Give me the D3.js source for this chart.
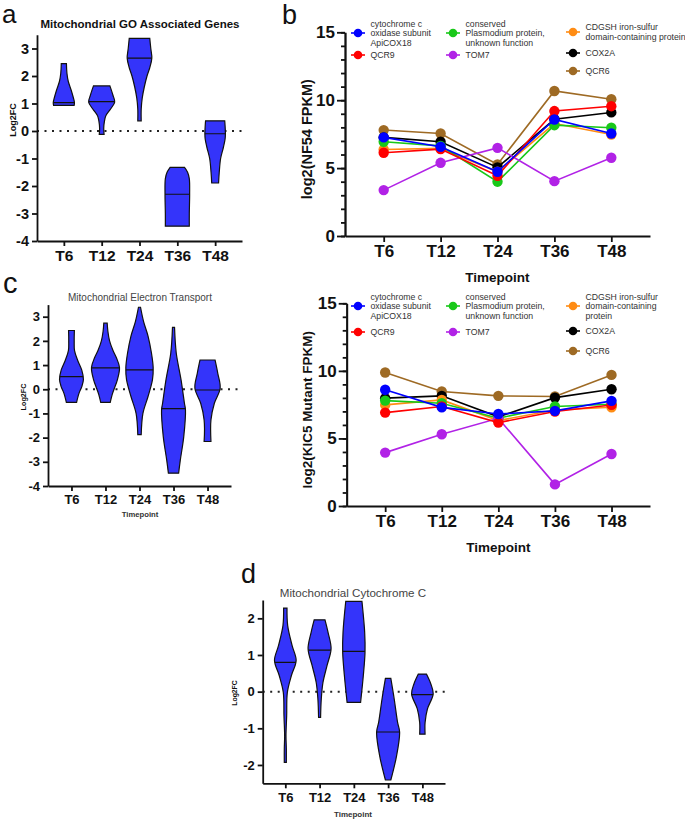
<!DOCTYPE html>
<html>
<head>
<meta charset="utf-8">
<script src="https://cdn.jsdelivr.net/npm/d3@7"></script>
<style>
  body { margin: 0; background: #fff; }
  svg { display: block; font-family: "Liberation Sans", Arial, sans-serif; }
</style>
</head>
<body>
<svg id="fig" width="685" height="820"></svg>
<script>
const svg = d3.select("#fig");
const times = ["T6", "T12", "T24", "T36", "T48"];

// violin outlines: [log2FC, relative width]
const goProfiles = [
  [[0.93, 30], [1.03, 31], [1.2, 28], [1.5, 21], [1.8, 13], [2.1, 9], [2.45, 7.5]],
  [[-0.12, 7], [0.1, 6], [0.35, 8], [0.55, 12], [0.8, 26], [1.05, 38], [1.3, 33], [1.64, 24]],
  [[0.37, 5], [0.8, 5], [1.2, 8], [1.6, 14], [2.0, 22], [2.3, 30], [2.65, 36], [3.0, 33], [3.37, 30]],
  [[-3.46, 35], [-3.0, 35], [-2.3, 36], [-1.73, 35], [-1.5, 30], [-1.32, 21]],
  [[-1.89, 10], [-1.5, 12], [-1.0, 16], [-0.6, 24], [-0.3, 29], [-0.1, 30], [0.2, 29], [0.37, 28]]
];
const goMedians = [1.03, 1.07, 2.65, -2.3, -0.1];

const etcProfiles = [
  [[-0.54, 15], [-0.17, 22], [0.1, 30], [0.4, 35], [0.8, 30], [1.2, 18], [1.6, 9], [2.0, 8], [2.43, 8.5]],
  [[-0.54, 14], [-0.2, 20], [0, 25], [0.4, 35], [0.9, 41], [1.3, 32], [1.6, 22], [2.0, 12], [2.4, 7], [2.73, 5]],
  [[-1.88, 5], [-1.0, 10], [-0.3, 25], [0.4, 38], [0.9, 40], [1.5, 35], [2.2, 25], [2.8, 12], [3.39, 3]],
  [[-3.47, 15], [-2.92, 20], [-1.96, 30], [-0.85, 35], [-0.58, 32], [0.4, 22], [1.5, 8], [2.56, 3]],
  [[-2.16, 10], [-1.27, 10], [-0.58, 20], [0.04, 37], [0.66, 30], [1.21, 22]]
];
const etcMedians = [0.52, 0.88, 0.8, -0.8, -0.03];

const cytProfiles = [
  [[-1.93, 3], [-1.56, 3], [-1.2, 2], [-0.66, 4], [-0.02, 6], [0.44, 18], [0.85, 32], [1.26, 20], [1.8, 7], [2.28, 5]],
  [[-0.7, 3], [-0.2, 5], [0.25, 10], [0.71, 22], [1.17, 34], [1.62, 25], [1.96, 16]],
  [[-0.29, 20], [0.44, 28], [1.07, 33], [1.62, 32], [2.46, 24]],
  [[-2.41, 8], [-1.75, 25], [-1.1, 34], [-0.84, 28], [-0.2, 18], [0.36, 8]],
  [[-1.16, 8], [-0.84, 8], [-0.47, 15], [-0.06, 32], [0.21, 25], [0.48, 12]]
];
const cytMedians = [0.8, 1.13, 1.1, -1.1, -0.08];

// gene expression (log2 FPKM) per timepoint
const genes = ["ApiCOX18", "QCR9", "conserved", "TOM7", "CDGSH", "COX2A", "QCR6"];
const geneColors = ["#0000ff", "#ff0000", "#19c819", "#b122e6", "#ff8c14", "#000000", "#9e6a24"];
const nf54Values = [
  [7.26, 6.57, 4.73, 8.58, 7.55],
  [6.13, 6.4, 4.43, 9.2, 9.56],
  [6.94, 6.64, 4.0, 8.16, 7.97],
  [3.38, 5.39, 6.49, 4.04, 5.76],
  [6.37, 6.45, 4.73, 8.28, 7.47],
  [7.26, 6.94, 5.05, 8.6, 9.1],
  [7.8, 7.55, 5.27, 10.68, 10.07]
];
const kic5Values = [
  [8.6, 7.3, 6.81, 7.04, 7.78],
  [6.91, 7.36, 6.17, 6.99, 7.48],
  [7.8, 7.6, 6.5, 7.36, 7.53],
  [3.95, 5.31, 6.49, 1.6, 3.85],
  [7.48, 7.85, 6.32, 7.1, 7.31],
  [7.98, 8.15, 6.6, 8.02, 8.64],
  [9.88, 8.47, 8.15, 8.1, 9.7]
];
const legendB = [["cytochrome c", "oxidase subunit", "ApiCOX18"], ["QCR9"],
  ["conserved", "Plasmodium protein,", "unknown function"], ["TOM7"],
  ["CDGSH iron-sulfur", "domain-containing protein"], ["COX2A"], ["QCR6"]];
const legendE = [["cytochrome c", "oxidase subunit", "ApiCOX18"], ["QCR9"],
  ["conserved", "Plasmodium protein,", "unknown function"], ["TOM7"],
  ["CDGSH iron-sulfur", "domain-containing", "protein"], ["COX2A"], ["QCR6"]];

const FONT = '"Liberation Sans", Arial, sans-serif';

function styleAxis(sel, size) {
  sel.selectAll("path, line").attr("stroke", "#111").attr("stroke-width", 1.8);
  sel.selectAll("text").attr("font-family", FONT).attr("font-weight", "bold")
    .attr("font-size", size).attr("fill", "#111");
}

function addText(x, y, str, opts) {
  const t = svg.append("text").attr("x", x).attr("y", y).text(str)
    .attr("font-family", FONT)
    .attr("font-size", opts.size)
    .attr("font-weight", opts.weight || "normal")
    .attr("fill", opts.fill || "#111")
    .attr("text-anchor", opts.anchor || "middle");
  if (opts.rotate) t.attr("transform", `rotate(-90,${x},${y})`);
  return t;
}

let clipId = 0;
function violinPanel(o) {
  const g = svg.append("g");
  const x = d3.scalePoint().domain(times).range(o.xr).padding(o.pad);
  const y = d3.scaleLinear().domain(o.yd).range(o.yr);
  const w = d3.scaleLinear().domain([0, d3.max(o.profiles.flat(), d => d[1])]).range([0, o.hw]);

  g.append("line")
    .attr("x1", o.xr[0]).attr("x2", o.zeroEnd)
    .attr("y1", y(0)).attr("y2", y(0))
    .attr("stroke", "#222").attr("stroke-width", 2)
    .attr("stroke-dasharray", "2,5.5");

  o.profiles.forEach((p, i) => {
    const cx = x(times[i]);
    const area = d3.area()
      .curve(d3.curveCatmullRom.alpha(0.5))
      .y(d => y(d[0]))
      .x0(d => cx - w(d[1]))
      .x1(d => cx + w(d[1]));
    const id = "vclip" + (clipId++);
    g.append("clipPath").attr("id", id).append("path").attr("d", area(p));
    g.append("path").attr("d", area(p))
      .attr("fill", "#3434fa").attr("stroke", "#111").attr("stroke-width", 1.2);
    g.append("line")
      .attr("clip-path", `url(#${id})`)
      .attr("x1", cx - o.hw * 2).attr("x2", cx + o.hw * 2)
      .attr("y1", y(o.medians[i])).attr("y2", y(o.medians[i]))
      .attr("stroke", "#111").attr("stroke-width", 1.2);
  });

  g.append("g").attr("transform", `translate(${o.xr[0]},0)`)
    .call(d3.axisLeft(y).tickValues(o.yTicks).tickSize(5).tickSizeOuter(0).tickPadding(3)
      .tickFormat(d => String(d)))
    .call(s => styleAxis(s, o.ySize));
  g.append("g").attr("transform", `translate(0,${o.yr[0]})`)
    .call(d3.axisBottom(x).tickSize(5).tickSizeOuter(0).tickPadding(4))
    .call(s => styleAxis(s, o.xSize));
}

function linePanel(o) {
  const g = svg.append("g");
  const x = d3.scalePoint().domain(times).range(o.xr).padding(0.68);
  const y = d3.scaleLinear().domain([0, 15]).range(o.yr);

  g.append("g").attr("transform", `translate(${o.xr[0]},0)`)
    .call(d3.axisLeft(y).ticks(15).tickSize(4).tickSizeOuter(0).tickFormat(""))
    .call(s => styleAxis(s, 10));
  g.append("g").attr("transform", `translate(${o.xr[0]},0)`)
    .call(d3.axisLeft(y).tickValues([0, 5, 10, 15]).tickSize(8).tickSizeOuter(0).tickPadding(2))
    .call(s => styleAxis(s, 17));
  g.append("g").attr("transform", `translate(0,${o.yr[0]})`)
    .call(d3.axisBottom(x).tickSize(6).tickSizeOuter(0).tickPadding(3))
    .call(s => styleAxis(s, 17));

  const line = d3.line().x((d, i) => x(times[i])).y(d => y(d));
  const order = [6, 5, 4, 2, 3, 1, 0];
  order.forEach(k => {
    g.append("path").datum(o.values[k]).attr("d", line)
      .attr("fill", "none").attr("stroke", geneColors[k]).attr("stroke-width", 1.6);
    g.selectAll(null).data(o.values[k]).join("circle")
      .attr("cx", (d, i) => x(times[i])).attr("cy", d => y(d)).attr("r", 5.2)
      .attr("fill", geneColors[k]);
  });

  // legend
  const colX = [358, 453, 573];
  const col = [0, 0, 1, 1, 2, 2, 2];
  genes.forEach((gname, k) => {
    const mx = colX[col[k]], my = o.legendY[k];
    g.append("line").attr("x1", mx - 7).attr("x2", mx + 7).attr("y1", my).attr("y2", my)
      .attr("stroke", geneColors[k]).attr("stroke-width", 1.6);
    g.append("circle").attr("cx", mx).attr("cy", my).attr("r", 4.3).attr("fill", geneColors[k]);
    const lines = o.labels[k];
    const t = g.append("text").attr("font-family", FONT).attr("font-size", 8.7).attr("fill", "#333");
    lines.forEach((ln, j) => {
      t.append("tspan").attr("x", mx + 12.5)
        .attr("y", my + (j - (lines.length - 1) / 2) * 9.4 + 3.1).text(ln);
    });
  });

  addText(312, (o.yr[0] + o.yr[1]) / 2 + 5, o.yTitle, { size: o.yTitleSize, weight: "bold", rotate: true });
  addText((o.xr[0] + o.xr[1]) / 2, o.yr[0] + 46, "Timepoint", { size: 13.5, weight: "bold" });
}

// panel a
violinPanel({ xr: [37, 242], pad: 0.71, yd: [-4, 3.5], yr: [241, 34.75], yTicks: d3.range(-4, 4),
  profiles: goProfiles, medians: goMedians, hw: 13, zeroEnd: 245, ySize: 14.5, xSize: 15.5 });
addText(140, 28, "Mitochondrial GO Associated Genes", { size: 11.5, weight: "bold" });
addText(16, 120, "Log2FC", { size: 9, weight: "bold", rotate: true });
addText(2, 23, "a", { size: 26, anchor: "start" });

// panel c
violinPanel({ xr: [48, 231], pad: 0.69, yd: [-4, 3.5], yr: [486, 304.6], yTicks: d3.range(-4, 4),
  profiles: etcProfiles, medians: etcMedians, hw: 14, zeroEnd: 238, ySize: 13, xSize: 13 });
addText(140, 301, "Mitochondrial Electron Transport", { size: 10, fill: "#444" });
addText(26, 397, "Log2FC", { size: 7.2, weight: "bold", rotate: true });
addText(140, 517, "Timepoint", { size: 7.7, weight: "bold", fill: "#333" });
addText(3, 293, "c", { size: 29, anchor: "start" });

// panel d
violinPanel({ xr: [262.7, 445], pad: 0.66, yd: [-2.5, 2.5], yr: [783.3, 600], yTicks: [-2, -1, 0, 1, 2],
  profiles: cytProfiles, medians: cytMedians, hw: 11.5, zeroEnd: 448, ySize: 13, xSize: 13 });
addText(353, 597, "Mitochondrial Cytochrome C", { size: 11.6, fill: "#444" });
addText(237, 693, "Log2FC", { size: 6.8, weight: "bold", rotate: true });
addText(353, 817, "Timepoint", { size: 8, weight: "bold", fill: "#333" });
addText(241, 583, "d", { size: 27, anchor: "start" });

// panel b (NF54)
linePanel({ xr: [345, 650], yr: [236, 32.3], values: nf54Values, labels: legendB,
  legendY: [33, 55, 33, 55, 32, 53, 71], yTitle: "log2(NF54 FPKM)", yTitleSize: 14.5 });
addText(282, 24, "b", { size: 27, anchor: "start" });

// KIC5 mutant panel
linePanel({ xr: [346.7, 650], yr: [506, 303.3], values: kic5Values, labels: legendE,
  legendY: [306, 332, 306, 332, 306, 331, 351], yTitle: "log2(KIC5 Mutant FPKM)", yTitleSize: 13.5 });
</script>
</body>
</html>
